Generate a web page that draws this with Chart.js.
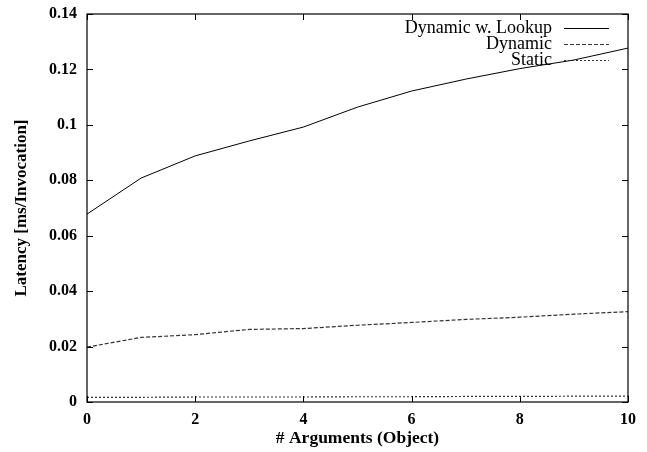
<!DOCTYPE html>
<html>
<head>
<meta charset="utf-8">
<script src="https://cdn.jsdelivr.net/npm/chart.js@4"></script>
<style>
  html, body { margin: 0; padding: 0; background: #fff; }
  #wrap { width: 647px; height: 452px; }
</style>
</head>
<body>
<div id="wrap"><canvas id="c" width="647" height="452"></canvas></div>
<script>
const args = [0, 1, 2, 3, 4, 5, 6, 7, 8, 9, 10];
const lookupVals = [0.0678, 0.0808, 0.0888, 0.0942, 0.0992, 0.1064, 0.1122, 0.1165, 0.1203, 0.1234, 0.1277];
const dynamicVals = [0.0198, 0.0233, 0.0243, 0.0262, 0.0265, 0.0277, 0.0287, 0.0298, 0.0306, 0.0317, 0.0326];
const staticVals = [0.0017, 0.0017, 0.0018, 0.0018, 0.0018, 0.0019, 0.0019, 0.0020, 0.0020, 0.0021, 0.0021];
const seriesNames = ['Dynamic w. Lookup', 'Dynamic', 'Static'];
const yTicks = [0, 0.02, 0.04, 0.06, 0.08, 0.1, 0.12, 0.14];
const xTicks = [0, 2, 4, 6, 8, 10];

const serif = '"Liberation Serif", "DejaVu Serif", serif';

const toPts = vals => args.map((a, i) => ({ x: a, y: vals[i] }));

// gnuplot style: box round the plot, ticks pointing inward on every side, legend top right
const framePlugin = {
  id: 'frame',
  afterDatasetsDraw(chart) {
    const { ctx, chartArea: a, scales } = chart;
    ctx.save();
    ctx.strokeStyle = '#000';
    ctx.lineWidth = 1.2;
    ctx.strokeRect(a.left, a.top, a.right - a.left, a.bottom - a.top);
    ctx.lineWidth = 1;
    const len = 6;
    yTicks.forEach(v => {
      const py = Math.round(scales.y.getPixelForValue(v)) + 0.5;
      ctx.beginPath();
      ctx.moveTo(a.left, py); ctx.lineTo(a.left + len, py);
      ctx.moveTo(a.right, py); ctx.lineTo(a.right - len, py);
      ctx.stroke();
    });
    xTicks.forEach(v => {
      const px = Math.round(scales.x.getPixelForValue(v)) + 0.5;
      ctx.beginPath();
      ctx.moveTo(px, a.bottom); ctx.lineTo(px, a.bottom - len);
      ctx.moveTo(px, a.top); ctx.lineTo(px, a.top + len);
      ctx.stroke();
    });

    // legend
    ctx.font = '18px ' + serif;
    ctx.textAlign = 'right';
    ctx.textBaseline = 'middle';
    chart.data.datasets.forEach((ds, i) => {
      const y = a.top + 14 + i * 16;
      const textRight = a.right - 76;
      ctx.fillStyle = '#000';
      ctx.fillText(ds.label, textRight, y);
      ctx.strokeStyle = ds.borderColor;
      ctx.lineWidth = 1;
      ctx.setLineDash(ds.borderDash || []);
      ctx.beginPath();
      ctx.moveTo(textRight + 12, y + 0.5);
      ctx.lineTo(a.right - 19, y + 0.5);
      ctx.stroke();
      ctx.setLineDash([]);
    });
    ctx.restore();
  }
};

new Chart(document.getElementById('c'), {
  type: 'line',
  data: {
    datasets: [
      { label: seriesNames[0], data: toPts(lookupVals), borderColor: '#000', borderWidth: 1, pointRadius: 0, tension: 0 },
      { label: seriesNames[1], data: toPts(dynamicVals), borderColor: '#333', borderWidth: 1.2, borderDash: [4, 2], pointRadius: 0, tension: 0 },
      { label: seriesNames[2], data: toPts(staticVals), borderColor: '#333', borderWidth: 1.2, borderDash: [2, 2], pointRadius: 0, tension: 0 }
    ]
  },
  options: {
    responsive: false,
    animation: false,
    layout: { padding: { left: 0, right: 19, top: 14, bottom: 0 } },
    plugins: { legend: { display: false }, tooltip: { enabled: false } },
    scales: {
      x: {
        type: 'linear',
        min: 0, max: 10,
        afterBuildTicks: s => { s.ticks = xTicks.map(v => ({ value: v })); },
        afterFit: s => { s.height = 50; s.paddingLeft = 0; s.paddingRight = 0; },
        grid: { display: false, drawTicks: false },
        border: { display: false },
        ticks: { color: '#000', padding: 8, maxRotation: 0, font: { family: serif, size: 16, weight: 'bold' } },
        title: { display: true, text: '# Arguments (Object)', color: '#000', padding: { top: 2, bottom: 3 }, font: { family: serif, size: 17.5, weight: 'bold' } }
      },
      y: {
        min: 0, max: 0.14,
        afterBuildTicks: s => { s.ticks = yTicks.map(v => ({ value: v })); },
        afterFit: s => { s.width = 87; s.paddingTop = 0; s.paddingBottom = 0; },
        grid: { display: false, drawTicks: false },
        border: { display: false },
        ticks: { color: '#000', padding: 10, font: { family: serif, size: 16, weight: 'bold' }, callback: v => String(+v.toFixed(2)) },
        title: { display: true, text: 'Latency [ms/Invocation]', color: '#000', padding: { top: 11, bottom: 0 }, font: { family: serif, size: 17, weight: 'bold' } }
      }
    }
  },
  plugins: [framePlugin]
});
</script>
</body>
</html>
